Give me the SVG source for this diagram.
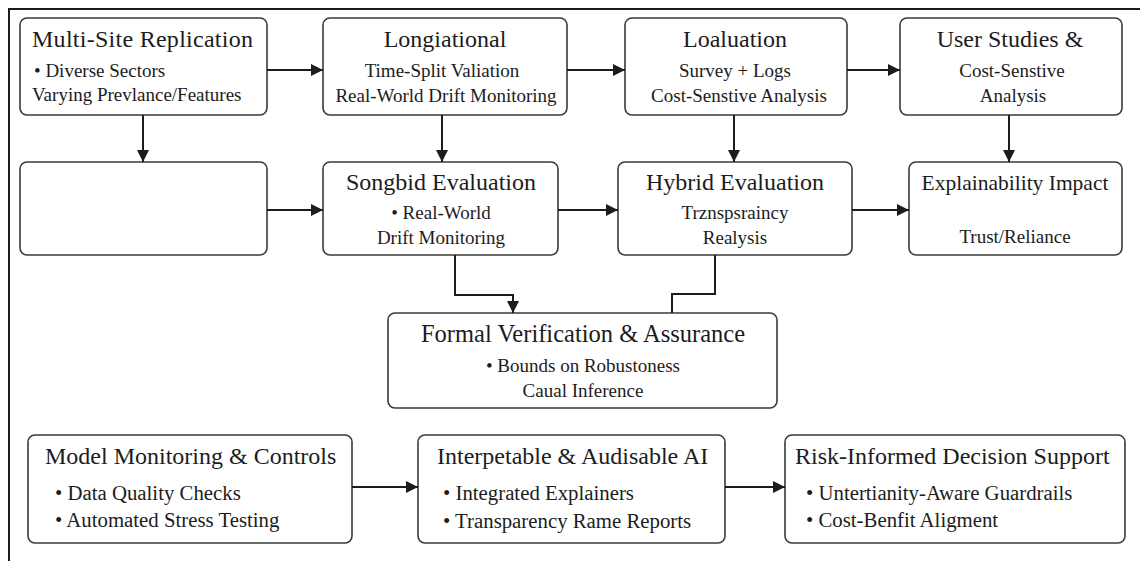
<svg xmlns="http://www.w3.org/2000/svg" width="1140" height="561" viewBox="0 0 1140 561">
<defs>
<style>
.box{fill:#fff;stroke:#3a3a3a;stroke-width:1.6}
.t{font-family:"Liberation Serif","Times New Roman",serif;fill:#1c1c1c}
.h{font-size:24px}
.s{font-size:19px}
.b{font-size:20.8px}
.c{text-anchor:middle}
.ln{fill:none;stroke:#1c1c1c;stroke-width:2}
</style>
<marker id="ah" markerUnits="userSpaceOnUse" markerWidth="12" markerHeight="12" viewBox="0 0 12 12" refX="12" refY="6" orient="auto">
<path d="M0,0 L12,6 L0,12 z" fill="#1c1c1c"/>
</marker>
</defs>
<rect width="1140" height="561" fill="#fff"/>
<path d="M9,561 V9 H1140" fill="none" stroke="#1c1c1c" stroke-width="2"/>

<g id="n-multisite">
<rect class="box" x="20" y="18" width="247" height="97" rx="7"/>
<text class="t h" x="32" y="47" textLength="221">Multi-Site Replication</text>
<text class="t s" x="34" y="77">• Diverse Sectors</text>
<text class="t s" x="32" y="101">Varying Prevlance/Features</text>
</g>
<g id="n-longiational">
<rect class="box" x="323" y="18" width="244" height="97" rx="7"/>
<text class="t h c" x="445" y="47">Longiational</text>
<text class="t s c" x="442" y="77">Time-Split Valiation</text>
<text class="t s c" x="446" y="102">Real-World Drift Monitoring</text>
</g>
<g id="n-loaluation">
<rect class="box" x="625" y="18" width="222" height="97" rx="7"/>
<text class="t h c" x="735" y="47">Loaluation</text>
<text class="t s c" x="735" y="77">Survey + Logs</text>
<text class="t s c" x="739" y="102">Cost-Senstive Analysis</text>
</g>
<g id="n-userstudies">
<rect class="box" x="900" y="18" width="222" height="97" rx="7"/>
<text class="t h c" x="1010" y="47">User Studies &amp;</text>
<text class="t s c" x="1012" y="77">Cost-Senstive</text>
<text class="t s c" x="1013" y="102">Analysis</text>
</g>

<g id="n-blank">
<rect class="box" x="20" y="162" width="247" height="93" rx="7"/>
</g>
<g id="n-songbid">
<rect class="box" x="323" y="162" width="235" height="93" rx="7"/>
<text class="t h c" x="441" y="190">Songbid Evaluation</text>
<text class="t s c" x="441" y="219">• Real-World</text>
<text class="t s c" x="441" y="244">Drift Monitoring</text>
</g>
<g id="n-hybrid">
<rect class="box" x="618" y="162" width="234" height="93" rx="7"/>
<text class="t h c" x="735" y="190">Hybrid Evaluation</text>
<text class="t s c" x="735" y="219">Trznspsraincy</text>
<text class="t s c" x="735" y="244">Realysis</text>
</g>
<g id="n-explainability">
<rect class="box" x="909" y="162" width="213" height="93" rx="7"/>
<text class="t c" style="font-size:21.5px" x="1015" y="190">Explainability Impact</text>
<text class="t s c" x="1015" y="243">Trust/Reliance</text>
</g>

<g id="n-formal">
<rect class="box" x="388" y="313" width="389" height="95" rx="7"/>
<text class="t c" style="font-size:24.5px" x="583" y="342">Formal Verification &amp; Assurance</text>
<text class="t s c" x="583" y="372">• Bounds on Robustoness</text>
<text class="t s c" x="583" y="397">Caual Inference</text>
</g>

<g id="n-monitoring">
<rect class="box" x="28" y="435" width="324" height="108" rx="7"/>
<text class="t h" x="45" y="464">Model Monitoring &amp; Controls</text>
<text class="t b" x="55" y="500">• Data Quality Checks</text>
<text class="t b" x="55" y="527">• Automated Stress Testing</text>
</g>
<g id="n-interpretable">
<rect class="box" x="418" y="435" width="307" height="108" rx="7"/>
<text class="t h" x="437" y="464">Interpetable &amp; Audisable AI</text>
<text class="t b" x="443" y="500">• Integrated Explainers</text>
<text class="t b" x="443" y="528">• Transparency Rame Reports</text>
</g>
<g id="n-risk">
<rect class="box" x="785" y="435" width="340" height="108" rx="7"/>
<text class="t h" x="795" y="464">Risk-Informed Decision Support</text>
<text class="t b" x="806" y="500">• Untertianity-Aware Guardrails</text>
<text class="t b" x="806" y="527">• Cost-Benfit Aligment</text>
</g>

<g id="connectors">
<line class="ln" x1="267" y1="70" x2="323" y2="70" marker-end="url(#ah)"/>
<line class="ln" x1="567" y1="70" x2="625" y2="70" marker-end="url(#ah)"/>
<line class="ln" x1="847" y1="70" x2="900" y2="70" stroke-width="2.5" marker-end="url(#ah)"/>
<line class="ln" x1="143" y1="115" x2="143" y2="162" marker-end="url(#ah)"/>
<line class="ln" x1="442" y1="115" x2="442" y2="162" marker-end="url(#ah)"/>
<line class="ln" x1="734" y1="115" x2="734" y2="162" marker-end="url(#ah)"/>
<line class="ln" x1="1009" y1="115" x2="1009" y2="162" marker-end="url(#ah)"/>
<line class="ln" x1="267" y1="210" x2="323" y2="210" marker-end="url(#ah)"/>
<line class="ln" x1="558" y1="210" x2="618" y2="210" marker-end="url(#ah)"/>
<line class="ln" x1="852" y1="210" x2="909" y2="210" marker-end="url(#ah)"/>
<polyline class="ln" points="455,255 455,295 513,295 513,313" marker-end="url(#ah)"/>
<polyline class="ln" points="715,255 715,294 672,294 672,313"/>
<line class="ln" x1="352" y1="487" x2="418" y2="487" marker-end="url(#ah)"/>
<line class="ln" x1="725" y1="487" x2="785" y2="487" marker-end="url(#ah)"/>
</g>
</svg>
